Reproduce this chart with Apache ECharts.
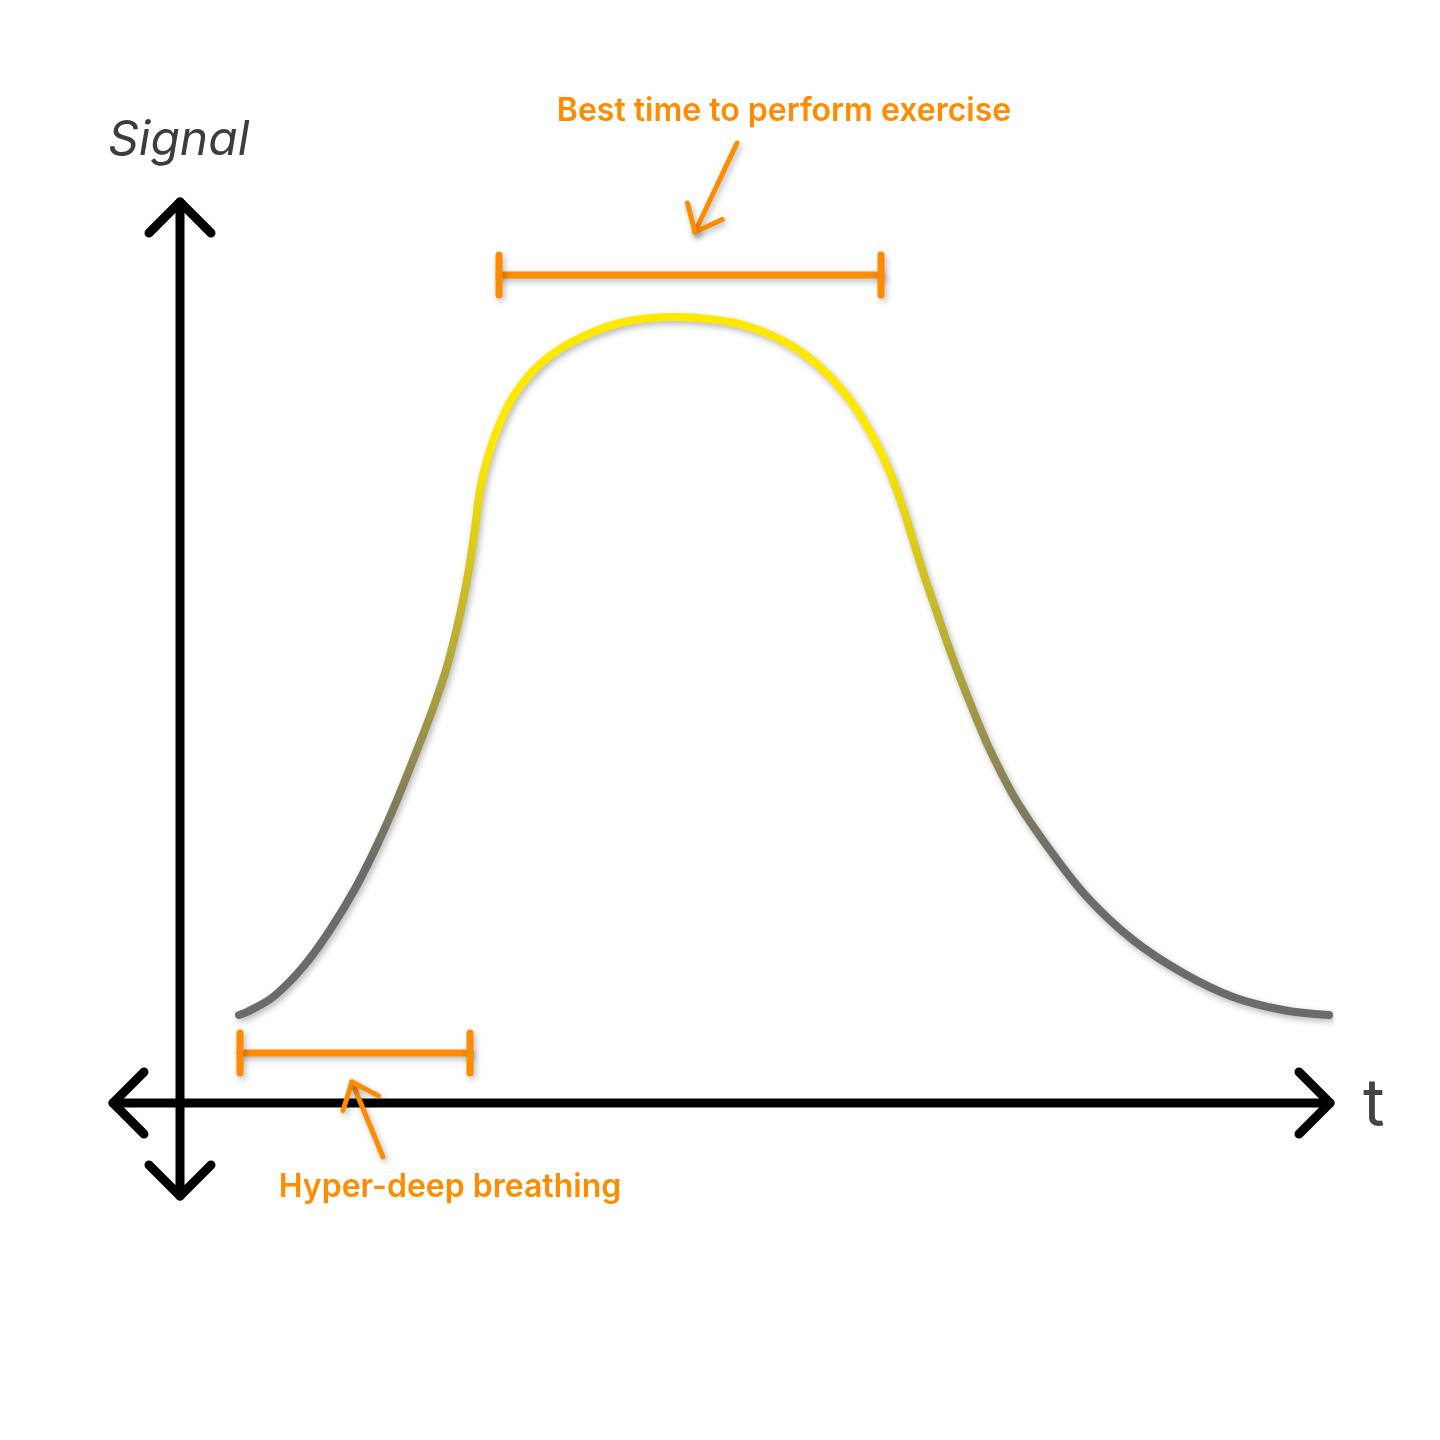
<!DOCTYPE html>
<html>
<head>
<meta charset="utf-8">
<title>Signal</title>
<script src="https://cdn.jsdelivr.net/npm/echarts@6/dist/echarts.min.js"></script>
<style>
html, body { margin: 0; padding: 0; background: #fff; }
#chart1 { width: 1440px; height: 1440px; }
</style>
</head>
<body>
<div id="chart1"></div>
<script>
(function(){

    // signal curve (t -> signal)
    var curveT      = [0.59, 0.67, 0.93, 1.23, 1.50, 1.76, 1.98, 2.17, 2.41, 2.56, 2.66, 2.74, 2.81, 2.87, 2.92, 2.96, 3.00, 3.07, 3.18, 3.33, 3.57, 3.90, 4.40, 4.93, 5.37, 5.70, 6.07, 6.40, 6.70, 6.93, 7.09, 7.22, 7.33, 7.44, 7.56, 7.68, 7.81, 7.95, 8.10, 8.36, 8.70, 9.07, 9.53, 10.03, 10.53, 11.03, 11.49];
    var curveSignal = [0.88, 0.91, 1.06, 1.36, 1.73, 2.16, 2.60, 3.03, 3.63, 4.03, 4.33, 4.63, 4.93, 5.23, 5.53, 5.83, 6.13, 6.43, 6.75, 7.06, 7.36, 7.60, 7.80, 7.86, 7.83, 7.76, 7.60, 7.36, 7.03, 6.66, 6.33, 5.98, 5.63, 5.28, 4.93, 4.58, 4.23, 3.88, 3.53, 3.03, 2.53, 2.06, 1.63, 1.30, 1.06, 0.93, 0.88];

    // marked time windows: [from, to, height of the bar]
    var exerciseWindow  = [3.19, 7.01, 8.28];
    var breathingWindow = [0.60, 2.90, 0.50];

    // pointer arrows: [tailT, tailSignal, tipT, tipSignal]
    var exercisePointer  = [5.57, 9.60, 5.15, 8.71];
    var breathingPointer = [2.03, -0.54, 1.72, 0.21];

    // axis extents (both directions drawn with arrow heads)
    var tRange      = [-0.67, 11.50];
    var signalRange = [-0.93, 9.01];

    var ORANGE = '#ff8c00';
    var SHADOW = 'rgba(0, 0, 0, 0.28)';

    var curveData = [];
    for (var i = 0; i < curveT.length; i++) {
        curveData.push([curveT[i], curveSignal[i]]);
    }

    var head = 0.31;
    var axisLines = [
        [[tRange[0], 0], [tRange[1], 0]],
        [[0, signalRange[0]], [0, signalRange[1]]],
        [[tRange[1] - head, head], [tRange[1], 0], [tRange[1] - head, -head]],
        [[tRange[0] + head, head], [tRange[0], 0], [tRange[0] + head, -head]],
        [[-head, signalRange[1] - head], [0, signalRange[1]], [head, signalRange[1] - head]],
        [[-head, signalRange[0] + head], [0, signalRange[0]], [head, signalRange[0] + head]]
    ];

    var axisSeries = axisLines.map(function(pts){
        return {
            type: 'line',
            data: pts,
            showSymbol: false,
            clip: false,
            silent: true,
            z: 1,
            lineStyle: { color: '#000', width: 9, cap: 'round', join: 'round' }
        };
    });

    function segStyle(w){
        return {
            stroke: ORANGE, fill: 'none', lineWidth: w, lineCap: 'round', lineJoin: 'round',
            shadowBlur: 6, shadowColor: SHADOW, shadowOffsetX: 2, shadowOffsetY: 3
        };
    }

    function seg(a, b, w){
        return { type: 'line', shape: { x1: a[0], y1: a[1], x2: b[0], y2: b[1] }, style: segStyle(w) };
    }

    var renderBracket = function(params, api){
        var a = api.coord([api.value(0), api.value(2)]);
        var b = api.coord([api.value(1), api.value(2)]);
        var cap = 20;
        return {
            type: 'group',
            children: [
                seg(a, b, 7),
                seg([a[0], a[1] - cap], [a[0], a[1] + cap], 7),
                seg([b[0], b[1] - cap], [b[0], b[1] + cap], 7)
            ]
        };
    };

    var renderPointer = function(params, api){
        var tail = api.coord([api.value(0), api.value(1)]);
        var tip = api.coord([api.value(2), api.value(3)]);
        var ang = Math.atan2(tail[1] - tip[1], tail[0] - tip[0]);
        var len = 30, spread = 40 * Math.PI / 180;
        var p1 = [tip[0] + len * Math.cos(ang + spread), tip[1] + len * Math.sin(ang + spread)];
        var p2 = [tip[0] + len * Math.cos(ang - spread), tip[1] + len * Math.sin(ang - spread)];
        return {
            type: 'group',
            children: [
                seg(tail, tip, 5),
                seg(p1, tip, 5),
                seg(p2, tip, 5)
            ]
        };
    };

    function label(text, x, y, font, color, align, shadow){
        var st = { text: text, x: x, y: y, font: font, fill: color, align: align, verticalAlign: 'middle' };
        if (shadow) {
            st.shadowBlur = 5; st.shadowColor = SHADOW; st.shadowOffsetX = 1; st.shadowOffsetY = 2;
        }
        return { type: 'text', style: st, z: 10 };
    }

    var chart1 = echarts.init(document.getElementById('chart1'));

    var option = {
        animation: false,
        backgroundColor: '#fff',
        grid: { left: 113, right: 110, top: 202, bottom: 244 },
        xAxis: { type: 'value', min: tRange[0], max: tRange[1], show: false },
        yAxis: { type: 'value', min: signalRange[0], max: signalRange[1], show: false },
        graphic: [
            label('Signal', 108, 141, 'italic 48px Inter', '#3d3d3d', 'left', false),
            label('t', 1363, 1106, '66px Inter', '#444', 'left', false),
            label('Best time to perform exercise', 784, 111, '600 32px Inter', ORANGE, 'center', true),
            label('Hyper-deep breathing', 450, 1187, '600 32px Inter', ORANGE, 'center', true)
        ],
        series: axisSeries.concat([
            {
                name: 'Signal',
                type: 'line',
                data: curveData,
                smooth: 0.35,
                showSymbol: false,
                clip: false,
                z: 3,
                lineStyle: {
                    width: 8,
                    cap: 'round',
                    color: new echarts.graphic.LinearGradient(0, 0, 0, 1, [
                        { offset: 0, color: '#ffe800' },
                        { offset: 0.19, color: '#ffe800' },
                        { offset: 0.78, color: '#6b6b6b' },
                        { offset: 1, color: '#6b6b6b' }
                    ]),
                    shadowBlur: 6,
                    shadowColor: SHADOW,
                    shadowOffsetX: 2,
                    shadowOffsetY: 3
                }
            },
            {
                type: 'custom',
                renderItem: renderBracket,
                clip: false,
                silent: true,
                z: 4,
                data: [exerciseWindow, breathingWindow]
            },
            {
                type: 'custom',
                renderItem: renderPointer,
                clip: false,
                silent: true,
                z: 4,
                data: [exercisePointer, breathingPointer]
            }
        ])
    };

    chart1.setOption(option);
    window.onresize = chart1.resize;

})();
</script>
</body>
</html>
